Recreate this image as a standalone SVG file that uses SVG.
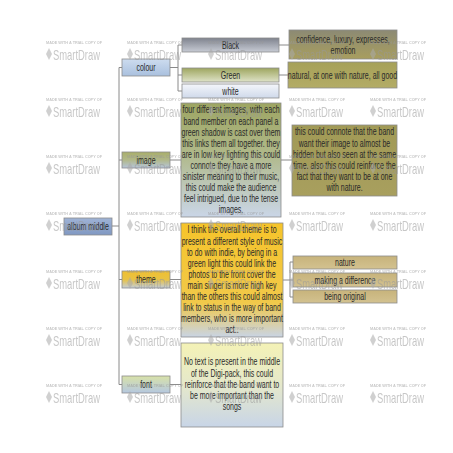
<svg xmlns="http://www.w3.org/2000/svg" xmlns:xlink="http://www.w3.org/1999/xlink" width="453" height="453" viewBox="0 0 453 453">
<style>
.t{font-family:"Liberation Sans",Arial,sans-serif;font-size:10px;fill:#2a2a2a;text-anchor:middle}
.box{stroke:#8c8c8c;stroke-width:0.8}
.c{fill:none;stroke:#8a8a8a;stroke-width:1}
.wms{font-family:"Liberation Sans",Arial,sans-serif;font-size:3.4px;fill:#999;font-weight:bold}
.wmb{font-family:"Liberation Sans",Arial,sans-serif;font-size:15px;fill:#999}
</style>
<defs>
<linearGradient id="gRoot" x1="0" y1="0" x2="0" y2="1"><stop offset="0" stop-color="#9fb3d6"/><stop offset="1" stop-color="#8098c2"/></linearGradient>
<linearGradient id="gColour" x1="0" y1="0" x2="0" y2="1"><stop offset="0" stop-color="#cddcef"/><stop offset="1" stop-color="#a9c0de"/></linearGradient>
<linearGradient id="gBlack" x1="0" y1="0" x2="0" y2="1"><stop offset="0" stop-color="#7f838e"/><stop offset="1" stop-color="#c7cbd4"/></linearGradient>
<linearGradient id="gGreen" x1="0" y1="0" x2="0" y2="1"><stop offset="0" stop-color="#9ea660"/><stop offset="1" stop-color="#dfe3c9"/></linearGradient>
<linearGradient id="gWhite" x1="0" y1="0" x2="0" y2="1"><stop offset="0" stop-color="#f4f6fb"/><stop offset="1" stop-color="#cfd9ea"/></linearGradient>
<linearGradient id="gConf" x1="0" y1="0" x2="0" y2="1"><stop offset="0" stop-color="#8c8a74"/><stop offset="1" stop-color="#a89e5e"/></linearGradient>
<linearGradient id="gNat" x1="0" y1="0" x2="0" y2="1"><stop offset="0" stop-color="#a6a158"/><stop offset="1" stop-color="#b3ac66"/></linearGradient>
<linearGradient id="gImgNode" x1="0" y1="0" x2="0" y2="1"><stop offset="0" stop-color="#a9ae6a"/><stop offset="0.5" stop-color="#b1b88a"/><stop offset="1" stop-color="#b6c5da"/></linearGradient>
<linearGradient id="gImgBox" x1="0" y1="0" x2="0" y2="1"><stop offset="0" stop-color="#9da562"/><stop offset="0.45" stop-color="#b0b98a"/><stop offset="1" stop-color="#cad6e7"/></linearGradient>
<linearGradient id="gConnote" x1="0" y1="0" x2="0" y2="1"><stop offset="0" stop-color="#a19a56"/><stop offset="1" stop-color="#a89f5e"/></linearGradient>
<linearGradient id="gThemeNode" x1="0" y1="0" x2="0" y2="1"><stop offset="0" stop-color="#f0c030"/><stop offset="0.5" stop-color="#e8c244"/><stop offset="1" stop-color="#c3cdd9"/></linearGradient>
<linearGradient id="gGold" x1="0" y1="0" x2="0" y2="1"><stop offset="0" stop-color="#f6c42a"/><stop offset="0.7" stop-color="#f1c94a"/><stop offset="1" stop-color="#c9d4e4"/></linearGradient>
<linearGradient id="gTan" x1="0" y1="0" x2="0" y2="1"><stop offset="0" stop-color="#c7b37b"/><stop offset="1" stop-color="#d3c290"/></linearGradient>
<linearGradient id="gFontNode" x1="0" y1="0" x2="0" y2="1"><stop offset="0" stop-color="#d8e1a8"/><stop offset="1" stop-color="#b5c8e0"/></linearGradient>
<linearGradient id="gFontBox" x1="0" y1="0" x2="0" y2="1"><stop offset="0" stop-color="#f4f2b6"/><stop offset="0.5" stop-color="#e5e8cb"/><stop offset="1" stop-color="#c8d5e7"/></linearGradient>
<g id="wm">
<text class="wms" x="0" y="1.5" textLength="56" lengthAdjust="spacingAndGlyphs">MADE WITH A TRIAL COPY OF</text>
<polygon points="3,6 6,12 3,18 0,12" fill="#aaa"/>
<text class="wmb" x="7" y="17.5" textLength="47" lengthAdjust="spacingAndGlyphs">SmartDraw</text>
</g>
</defs>
<rect width="453" height="453" fill="#ffffff"/>

<g id="connectors">
<path class="c" d="M112,226 H119 M119,67.5 V384.5 M119,67.5 H122 M119,160 H122 M119,279.5 H122 M119,384.5 H122"/>
<path class="c" d="M170,67.5 H178 M178,45 V91 M178,45 H182 M178,75 H182 M178,91 H182"/>
<path class="c" d="M279,45 H289 M279,75 H288"/>
<path class="c" d="M170,160 H181 M281,160 H292"/>
<path class="c" d="M170,279.5 H181 M283,280 H290 M290,262 V297 M290,262 H293 M290,280 H293 M290,297 H293"/>
<path class="c" d="M170,384.5 H181"/>
</g>

<g id="root">
<rect class="box" x="64" y="218" width="48" height="17" fill="url(#gRoot)"/>
<text class="t" transform="translate(88,229.5) scale(0.7,1)">album middle</text>
</g>

<g id="colour">
<rect class="box" x="122" y="59" width="48" height="17" fill="url(#gColour)"/>
<text class="t" transform="translate(146,71) scale(0.7,1)">colour</text>
</g>
<g id="image">
<rect class="box" x="122" y="152" width="48" height="16" fill="url(#gImgNode)"/>
<text class="t" transform="translate(146,163.5) scale(0.7,1)">image</text>
</g>
<g id="theme">
<rect class="box" x="122" y="271" width="48" height="17" fill="url(#gThemeNode)"/>
<text class="t" transform="translate(146,283) scale(0.7,1)">theme</text>
</g>
<g id="font">
<rect class="box" x="122" y="376" width="48" height="17" fill="url(#gFontNode)"/>
<text class="t" transform="translate(146,388) scale(0.7,1)">font</text>
</g>

<g id="black">
<rect class="box" x="182" y="38" width="97" height="14" fill="url(#gBlack)"/>
<text class="t" transform="translate(230.5,48.5) scale(0.7,1)">Black</text>
</g>
<g id="green">
<rect class="box" x="182" y="68" width="97" height="14" fill="url(#gGreen)"/>
<text class="t" transform="translate(230.5,78.5) scale(0.7,1)">Green</text>
</g>
<g id="white">
<rect class="box" x="182" y="84" width="97" height="14" fill="url(#gWhite)"/>
<text class="t" transform="translate(230.5,94.5) scale(0.7,1)">white</text>
</g>
<g id="confidence">
<rect class="box" x="289" y="30" width="108" height="29" fill="url(#gConf)"/>
<text class="t" transform="translate(343,42.5) scale(0.7,1)">confidence, luxury, expresses,</text>
<text class="t" transform="translate(343,54) scale(0.7,1)">emotion</text>
</g>
<g id="natural">
<rect class="box" x="288" y="62" width="109" height="26" fill="url(#gNat)"/>
<text class="t" transform="translate(342.5,78.5) scale(0.7,1)">natural, at one with nature, all good</text>
</g>

<g id="imagebox">
<rect class="box" x="181" y="103" width="100" height="114" fill="url(#gImgBox)"/>
<g transform="translate(231,0) scale(0.7,1)">
<text class="t" x="0" y="113.5">four different images, with each</text>
<text class="t" x="0" y="124.6">band member on each panel a</text>
<text class="t" x="0" y="135.7">green shadow is cast over them</text>
<text class="t" x="0" y="146.8">this links them all together. they</text>
<text class="t" x="0" y="157.9">are in low key lighting this could</text>
<text class="t" x="0" y="169">connote they have a more</text>
<text class="t" x="0" y="180.1">sinister meaning to their music,</text>
<text class="t" x="0" y="191.2">this could make the audience</text>
<text class="t" x="0" y="202.3">feel intrigued, due to the tense</text>
<text class="t" x="0" y="213.4">images.</text>
</g>
</g>
<g id="connote">
<rect class="box" x="292" y="125" width="105" height="71" fill="url(#gConnote)"/>
<g transform="translate(344.5,0) scale(0.7,1)">
<text class="t" x="0" y="135.5">this could connote that the band</text>
<text class="t" x="0" y="146.6">want their image to almost be</text>
<text class="t" x="0" y="157.7">hidden but also seen at the same</text>
<text class="t" x="0" y="168.8">time. also this could reinforce the</text>
<text class="t" x="0" y="179.9">fact that they want to be at one</text>
<text class="t" x="0" y="191">with nature.</text>
</g>
</g>

<g id="themebox">
<rect class="box" x="181" y="223" width="102" height="114" fill="url(#gGold)"/>
<g transform="translate(232,0) scale(0.7,1)">
<text class="t" x="0" y="233.5">I think the overall theme is to</text>
<text class="t" x="0" y="244.6">present a different style of music</text>
<text class="t" x="0" y="255.7">to do with indie, by being in a</text>
<text class="t" x="0" y="266.8">green light this could link the</text>
<text class="t" x="0" y="277.9">photos to the front cover the</text>
<text class="t" x="0" y="289">main singer is more high key</text>
<text class="t" x="0" y="300.1">than the others this could almost</text>
<text class="t" x="0" y="311.2">link to status in the way of band</text>
<text class="t" x="0" y="322.3">members, who is more important</text>
<text class="t" x="0" y="333.4">act..</text>
</g>
</g>
<g id="nature">
<rect class="box" x="293" y="256" width="104" height="13" fill="url(#gTan)"/>
<text class="t" transform="translate(345,265.5) scale(0.7,1)">nature</text>
</g>
<g id="making">
<rect class="box" x="293" y="273" width="104" height="14" fill="url(#gTan)"/>
<text class="t" transform="translate(345,283.5) scale(0.7,1)">making a difference</text>
</g>
<g id="original">
<rect class="box" x="293" y="290" width="104" height="13" fill="url(#gTan)"/>
<text class="t" transform="translate(345,300) scale(0.7,1)">being original</text>
</g>

<g id="fontbox">
<rect class="box" x="181" y="343" width="102" height="84" fill="url(#gFontBox)"/>
<g transform="translate(232,0) scale(0.7,1)">
<text class="t" x="0" y="365.5">No text is present in the middle</text>
<text class="t" x="0" y="376.6">of the Digi-pack, this could</text>
<text class="t" x="0" y="387.7">reinforce that the band want to</text>
<text class="t" x="0" y="398.8">be more important than the</text>
<text class="t" x="0" y="409.9">songs</text>
</g>
</g>

<g id="watermarks" opacity="0.55">
<use xlink:href="#wm" x="46" y="42"/><use xlink:href="#wm" x="127" y="42"/><use xlink:href="#wm" x="208" y="42"/><use xlink:href="#wm" x="289" y="42"/><use xlink:href="#wm" x="370" y="42"/>
<use xlink:href="#wm" x="46" y="99"/><use xlink:href="#wm" x="127" y="99"/><use xlink:href="#wm" x="208" y="99"/><use xlink:href="#wm" x="289" y="99"/><use xlink:href="#wm" x="370" y="99"/>
<use xlink:href="#wm" x="46" y="156"/><use xlink:href="#wm" x="127" y="156"/><use xlink:href="#wm" x="208" y="156"/><use xlink:href="#wm" x="289" y="156"/><use xlink:href="#wm" x="370" y="156"/>
<use xlink:href="#wm" x="46" y="213"/><use xlink:href="#wm" x="127" y="213"/><use xlink:href="#wm" x="208" y="213"/><use xlink:href="#wm" x="289" y="213"/><use xlink:href="#wm" x="370" y="213"/>
<use xlink:href="#wm" x="46" y="271"/><use xlink:href="#wm" x="127" y="271"/><use xlink:href="#wm" x="208" y="271"/><use xlink:href="#wm" x="289" y="271"/><use xlink:href="#wm" x="370" y="271"/>
<use xlink:href="#wm" x="46" y="328"/><use xlink:href="#wm" x="127" y="328"/><use xlink:href="#wm" x="208" y="328"/><use xlink:href="#wm" x="289" y="328"/><use xlink:href="#wm" x="370" y="328"/>
<use xlink:href="#wm" x="46" y="385"/><use xlink:href="#wm" x="127" y="385"/><use xlink:href="#wm" x="208" y="385"/><use xlink:href="#wm" x="289" y="385"/><use xlink:href="#wm" x="370" y="385"/>
</g>
</svg>
